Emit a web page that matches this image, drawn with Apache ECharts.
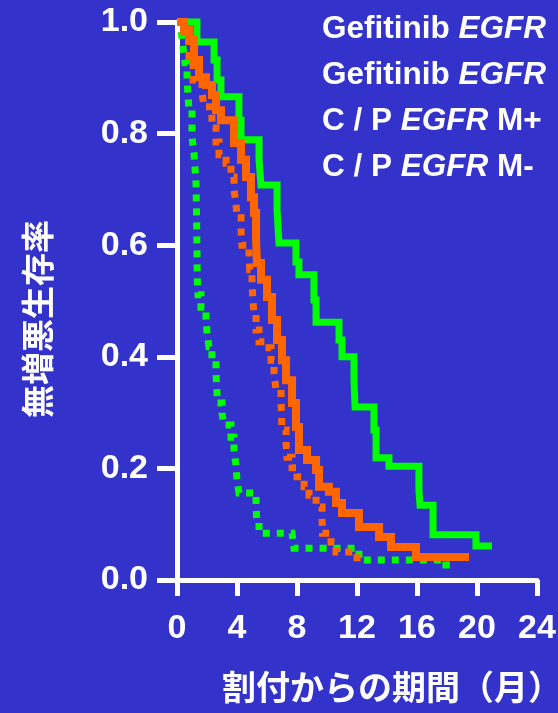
<!DOCTYPE html>
<html>
<head>
<meta charset="utf-8">
<script src="https://cdn.jsdelivr.net/npm/echarts@6/dist/echarts.min.js"></script>
<style>
html,body{margin:0;padding:0;background:#3333cc;}
#c{width:558px;height:713px;}
</style>
</head>
<body>
<div id="c"></div>
<script>
// ---- data ----
var xTicks = [0, 4, 8, 12, 16, 20, 24];
var yTicks = [0, 0.2, 0.4, 0.6, 0.8, 1.0];
var seriesNames = ['Gefitinib EGFR M+', 'Gefitinib EGFR M-', 'C / P EGFR M+', 'C / P EGFR M-'];

// Gefitinib EGFR M+ (solid green)  [month, survival]
var gefPos = [[0,1.0],[1.33,0.964],[2.47,0.932],[2.67,0.896],[2.93,0.866],[4.13,0.824],[4.27,0.789],
  [5.47,0.753],[5.6,0.708],[6.67,0.663],[6.8,0.604],[7.93,0.570],[8.13,0.547],[9.13,0.502],[9.27,0.462],
  [10.8,0.430],[11.0,0.400],[11.8,0.358],[11.87,0.310],[13.13,0.269],[13.27,0.219],[14.13,0.204],
  [16.13,0.161],[16.2,0.134],[17.07,0.081],[19.93,0.061],[21.0,0.061]];

// Gefitinib EGFR M- (dotted green)
var gefNeg = [[0,1.0],[0.27,0.986],[0.4,0.955],[0.53,0.927],[0.67,0.896],[0.73,0.869],[0.8,0.842],
  [1.0,0.794],[1.13,0.765],[1.2,0.738],[1.27,0.711],[1.3,0.658],[1.33,0.597],[1.35,0.538],[1.4,0.511],
  [1.6,0.489],[1.93,0.470],[2.0,0.444],[2.13,0.418],[2.33,0.394],[2.6,0.371],[2.65,0.346],[2.7,0.317],
  [3.0,0.299],[3.13,0.278],[3.6,0.256],[3.8,0.233],[3.93,0.206],[4.0,0.179],[4.13,0.156],[5.13,0.151],
  [5.27,0.131],[5.33,0.104],[5.47,0.084],[7.67,0.081],[7.8,0.057],[12.13,0.036],[17.93,0.027],[18.47,0.027]];

// C / P EGFR M+ (solid orange)
var cpPos = [[0,1.0],[0.47,0.986],[0.8,0.968],[1.13,0.932],[1.47,0.901],[1.93,0.887],[2.33,0.869],
  [2.6,0.842],[2.93,0.824],[3.8,0.783],[4.27,0.753],[4.6,0.722],[4.93,0.686],[5.13,0.658],[5.27,0.609],
  [5.33,0.568],[5.6,0.538],[6.0,0.507],[6.33,0.466],[6.67,0.430],[7.0,0.394],[7.27,0.358],[7.67,0.317],
  [7.93,0.274],[8.13,0.233],[8.67,0.215],[9.27,0.197],[9.47,0.167],[10.13,0.158],[10.6,0.138],[11.0,0.120],
  [12.13,0.095],[13.47,0.077],[14.27,0.059],[15.93,0.041],[19.47,0.041]];

// C / P EGFR M- (dotted orange)
var cpNeg = [[0,1.0],[0.47,0.968],[0.8,0.928],[1.07,0.896],[1.67,0.873],[1.8,0.848],[2.33,0.810],
  [2.6,0.785],[2.8,0.762],[3.27,0.747],[3.6,0.722],[3.8,0.699],[3.93,0.676],[4.0,0.649],[4.27,0.627],
  [4.33,0.600],[4.8,0.579],[4.85,0.556],[5.0,0.532],[5.05,0.507],[5.13,0.478],[5.27,0.448],[5.47,0.427],
  [6.13,0.416],[6.27,0.394],[6.47,0.371],[6.6,0.341],[6.93,0.323],[6.97,0.296],[7.0,0.269],[7.27,0.246],
  [7.33,0.220],[7.67,0.201],[8.0,0.185],[8.47,0.167],[8.8,0.152],[9.27,0.131],[9.67,0.113],[9.7,0.084],
  [10.27,0.068],[10.6,0.050],[12.0,0.030],[12.27,0.030]];

var GREEN = '#00ff00', ORANGE = '#ff6600', WHITE = '#ffffff';
var LAT = '"Liberation Sans", Arial, Helvetica, sans-serif';
var CJK = '"Noto Sans CJK JP", sans-serif';

function legendLabel(name) {
  if (name.indexOf('Gefitinib') === 0) return '{n|Gefitinib }{i|EGFR}';
  var suf = name.slice(name.length - 2);
  return '{n|C / P }{i|EGFR}{n| ' + suf + '}';
}

var chart = echarts.init(document.getElementById('c'), null, {renderer: 'canvas'});
var lineSeries = function (name, data, color, dotted, width) {
  return {
    name: name, type: 'line', step: 'end', data: data, symbol: 'none', clip: false,
    lineStyle: {color: color, width: width, type: dotted ? [7, 7] : 'solid', cap: 'butt', join: 'miter'},
    itemStyle: {color: color}, emphasis: {disabled: true}, animation: false
  };
};

chart.setOption({
  backgroundColor: '#3333cc',
  animation: false,
  grid: {left: 177, right: 21, top: 22, bottom: 133, containLabel: false, outerBoundsMode: 'none'},
  legend: {
    orient: 'vertical', left: 312, top: 8, itemGap: 14,
    icon: 'none', itemWidth: 0, itemHeight: 0, selectedMode: false,
    data: seriesNames,
    formatter: legendLabel,
    textStyle: {
      color: WHITE,
      rich: {
        n: {fontFamily: LAT, fontWeight: 'bold', fontSize: 31.5, color: WHITE, lineHeight: 36},
        i: {fontFamily: LAT, fontWeight: 'bold', fontStyle: 'italic', fontSize: 31.5, color: WHITE, lineHeight: 36}
      }
    }
  },
  xAxis: {
    type: 'value', min: 0, max: 24, interval: 4,
    name: '割付からの期間（月）', nameLocation: 'middle', nameGap: 90,
    nameTextStyle: {color: WHITE, fontFamily: CJK, fontSize: 34, fontWeight: 'bold', padding: [0, 0, 0, 70]},
    axisLine: {show: true, lineStyle: {color: WHITE, width: 5}},
    axisTick: {show: true, length: 16, lineStyle: {color: WHITE, width: 5}},
    axisLabel: {color: WHITE, fontFamily: LAT, fontWeight: 'bold', fontSize: 34, margin: 32,
      formatter: function (v) { return xTicks.indexOf(v) >= 0 ? String(v) : ''; }},
    splitLine: {show: false}
  },
  yAxis: {
    type: 'value', min: 0, max: 1, interval: 0.2,
    name: '無増悪生存率', nameLocation: 'middle', nameGap: 123, nameRotate: 90,
    nameTextStyle: {color: WHITE, fontFamily: CJK, fontSize: 33, fontWeight: 'bold', padding: [0, 36, 0, 0]},
    axisLine: {show: true, lineStyle: {color: WHITE, width: 5}},
    axisTick: {show: true, length: 20, lineStyle: {color: WHITE, width: 5}},
    axisLabel: {color: WHITE, fontFamily: LAT, fontWeight: 'bold', fontSize: 34, margin: 29,
      formatter: function (v) { return yTicks.indexOf(Math.round(v * 10) / 10) >= 0 ? v.toFixed(1) : ''; }},
    splitLine: {show: false}
  },
  series: [
    lineSeries(seriesNames[0], gefPos, GREEN, false, 7),
    lineSeries(seriesNames[1], gefNeg, GREEN, true, 7),
    lineSeries(seriesNames[3], cpNeg, ORANGE, true, 7),
    lineSeries(seriesNames[2], cpPos, ORANGE, false, 8)
  ]
});
</script>
</body>
</html>
